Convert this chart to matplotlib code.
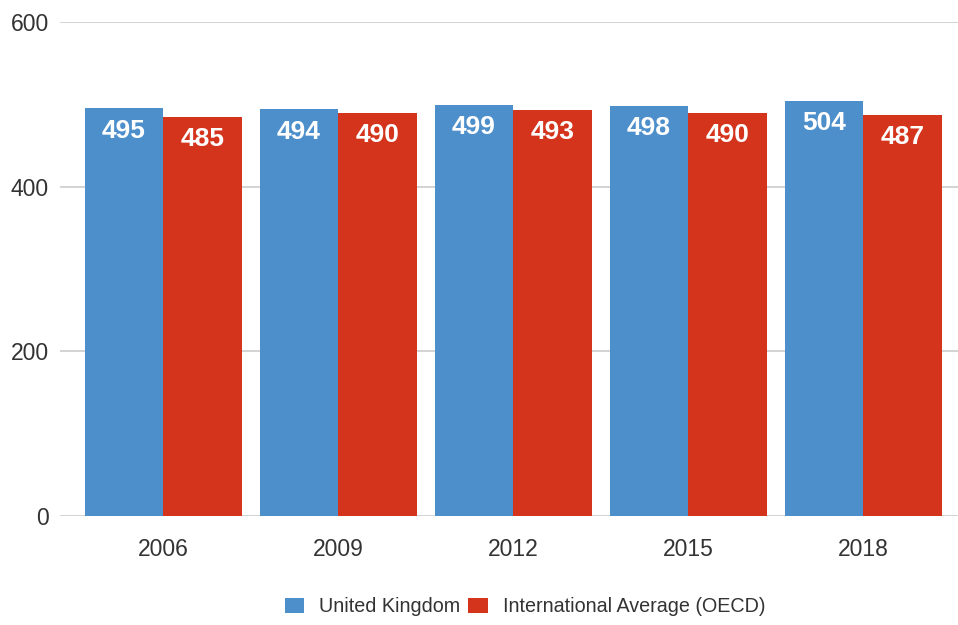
import numpy as np
import matplotlib.pyplot as plt

years = ["2006", "2009", "2012", "2015", "2018"]
uk = [495, 494, 499, 498, 504]
oecd = [485, 490, 493, 490, 487]
series_names = ["United Kingdom", "International Average (OECD)"]

plt.rcParams['font.family'] = ['Liberation Sans', 'DejaVu Sans']

fig = plt.figure(figsize=(9.58, 6.25), dpi=100)
ax = fig.add_axes([60 / 958, 109 / 625, 898 / 958, 494 / 625])

x = np.arange(len(years))
w = 0.45
blue = "#4d8fcb"
red = "#d4341b"
b1 = ax.bar(x - w / 2, uk, w, color=blue, label=series_names[0], zorder=3)
b2 = ax.bar(x + w / 2, oecd, w, color=red, label=series_names[1], zorder=3)

for bars in (b1, b2):
    for rect in bars:
        h = rect.get_height()
        ax.text(rect.get_x() + rect.get_width() / 2, h - 27, str(int(h)),
                ha="center", va="center", color="white", fontsize=19,
                fontweight="bold", zorder=4)

ax.set_ylim(0, 600)
ax.set_xlim(-0.59, 4.54)
ax.set_yticks([0, 200, 400, 600])
ax.set_xticks(x)
ax.set_xticklabels(years)
ax.tick_params(axis="both", length=0, labelsize=16.5, colors="#333333")
ax.tick_params(axis="y", pad=8)
ax.tick_params(axis="x", pad=16)
ax.grid(axis="y", color="#cccccc", linewidth=1.2, zorder=0)
for s in ax.spines.values():
    s.set_visible(False)

fig.legend(handles=[b1, b2], labels=series_names, loc="center",
           bbox_to_anchor=(0.548, 0.029), ncol=2, frameon=False,
           fontsize=14.2, handlelength=1.0, handleheight=0.8,
           columnspacing=0.4, handletextpad=0.75, labelcolor="#333333")

fig.savefig("out.png", dpi=100)
